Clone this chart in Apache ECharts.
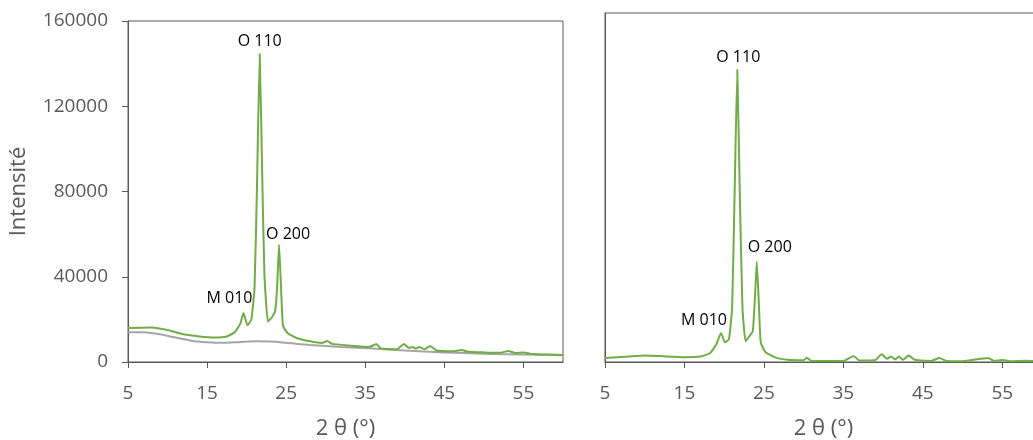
<!DOCTYPE html>
<html><head><meta charset="utf-8">
<script src="https://cdn.jsdelivr.net/npm/echarts@6/dist/echarts.min.js"></script>
<style>html,body{margin:0;padding:0;background:#fff}#c{width:1033px;height:440px}</style>
</head><body><div id="c"></div>
<script>
// ---- Data ----
const xTicks = [5, 15, 25, 35, 45, 55];
const yTicks = [0, 40000, 80000, 120000, 160000];

// left panel, green curve
const leftGreenX = [5, 8, 10, 12, 14, 16, 17.5, 18.5, 19.2, 19.6, 20.1, 20.6, 21.0, 21.3, 21.65, 21.95, 22.25, 22.7, 23.2, 23.6, 23.85, 24.1, 24.35, 24.6, 25.2, 26.5, 28, 29.5, 30.2, 30.8, 33, 35.5, 36.4, 37, 39, 39.9, 40.5, 41, 41.4, 41.8, 42.5, 43.2, 44, 46, 47.2, 48, 50, 52, 53.1, 54, 55, 56, 58, 60];
const leftGreenY = [16000, 16200, 15000, 13000, 12000, 11500, 12000, 14000, 18000, 23000, 17200, 20000, 35000, 81000, 144500, 91000, 41000, 19000, 21000, 23800, 35000, 55000, 35000, 17000, 13500, 11000, 9700, 8900, 9800, 8500, 7700, 7000, 8400, 6300, 6000, 8400, 6600, 7000, 6300, 7000, 6000, 7500, 5400, 5000, 5600, 4800, 4500, 4300, 5200, 4200, 4400, 3800, 3500, 3300];

// left panel, gray curve
const leftGrayX = [5, 7, 9, 11, 13, 15, 17, 19, 21, 23, 25, 28, 32, 36, 40, 45, 50, 55, 60];
const leftGrayY = [14000, 14000, 13000, 11500, 10000, 9300, 9000, 9300, 9700, 9600, 9000, 8000, 7000, 6300, 5400, 4500, 3900, 3500, 3200];

// right panel, green curve
const rightGreenX = [5, 8, 10, 12, 15, 17, 18.2, 19.0, 19.6, 20.1, 20.6, 21.0, 21.3, 21.65, 21.95, 22.3, 22.7, 23.2, 23.6, 23.85, 24.1, 24.35, 24.6, 25.2, 26.5, 28, 30, 30.4, 31, 35, 36.3, 37, 39, 39.8, 40.5, 41, 41.5, 42, 42.5, 43.2, 44, 46, 47.1, 48, 50, 53.2, 54, 55, 56, 58, 60];
const rightGreenY = [1800, 2500, 3000, 2700, 2200, 2500, 4000, 8000, 13300, 9000, 10500, 25000, 75000, 134000, 80000, 25000, 9500, 12000, 14200, 28000, 46000, 28000, 9000, 4500, 2000, 1000, 800, 2000, 500, 500, 2800, 700, 800, 3500, 1500, 2500, 1200, 2500, 1000, 3000, 1000, 500, 1800, 500, 400, 1800, 500, 900, 400, 600, 300];

// peak labels: [x, y, text]
const leftPeaks = [[21.65, 144500, 'O 110'], [24.1, 55000, 'O 200'], [19.6, 23000, 'M 010']];
const rightPeaks = [[21.65, 134000, 'O 110'], [24.1, 46000, 'O 200'], [19.6, 13300, 'M 010']];
const leftOffsets = [[0, -13], [9, -10], [-14, -15]];
const rightOffsets = [[1, -12], [13, -14], [-17, -13]];

// ---- Chart ----
const pair = (xs, ys) => xs.map((x, i) => [x, ys[i]]);
const FONT = '"Open Sans", "Liberation Sans", sans-serif';
const axisCol = '#595959';
const labelCol = '#595959';

function xAxis(gi) {
  return {
    type: 'value', gridIndex: gi, min: 5, max: 60, interval: 10,
    name: '2 θ (°)', nameLocation: 'middle', nameGap: 56,
    nameTextStyle: { fontFamily: FONT, fontSize: 22, color: labelCol },
    axisLine: { show: true, lineStyle: { color: axisCol, width: 1 } },
    axisTick: { show: true, inside: false, length: 6, lineStyle: { color: axisCol } },
    axisLabel: { fontFamily: FONT, fontSize: 19, color: labelCol, margin: 22, showMaxLabel: false },
    splitLine: { show: false }
  };
}
function peakMarks(peaks, offs) {
  return {
    symbol: 'circle', symbolSize: 0, silent: true,
    label: { show: true, position: 'inside', fontFamily: FONT, fontSize: 16, color: '#000' },
    data: peaks.map((p, i) => ({ coord: [p[0], p[1]], value: p[2], label: { offset: offs[i], formatter: p[2] } }))
  };
}

const chart = echarts.init(document.getElementById('c'), null, { renderer: 'canvas' });
chart.setOption({
  animation: false,
  backgroundColor: '#fff',
  grid: [
    { left: 128, top: 21, width: 435, height: 341, outerBoundsMode: 'none', containLabel: false, show: true, borderColor: axisCol, borderWidth: 1, backgroundColor: 'transparent' },
    { left: 605, top: 13, width: 437, height: 349, outerBoundsMode: 'none', containLabel: false, show: true, borderColor: axisCol, borderWidth: 1, backgroundColor: 'transparent' }
  ],
  xAxis: [xAxis(0), xAxis(1)],
  yAxis: [
    {
      type: 'value', gridIndex: 0, min: 0, max: 160000, interval: 40000,
      name: 'Intensité', nameLocation: 'middle', nameGap: 98, nameRotate: 90,
      nameTextStyle: { fontFamily: FONT, fontSize: 22, color: labelCol },
      axisLine: { show: true, lineStyle: { color: axisCol } },
      axisTick: { show: true, length: 6, lineStyle: { color: axisCol } },
      axisLabel: { fontFamily: FONT, fontSize: 19, color: labelCol, margin: 20, formatter: v => String(v) },
      splitLine: { show: false }
    },
    {
      type: 'value', gridIndex: 1, min: 0, max: 160000, interval: 40000,
      axisLine: { show: true, lineStyle: { color: axisCol } },
      axisTick: { show: false }, axisLabel: { show: false }, splitLine: { show: false }
    }
  ],
  series: [
    { type: 'line', xAxisIndex: 0, yAxisIndex: 0, data: pair(leftGrayX, leftGrayY), showSymbol: false, smooth: 0.3, lineStyle: { color: '#A5A5A5', width: 2 }, z: 2 },
    { type: 'line', xAxisIndex: 0, yAxisIndex: 0, data: pair(leftGreenX, leftGreenY), showSymbol: false, smooth: 0.15, lineStyle: { color: '#70AD47', width: 2, join: 'round' }, z: 3, markPoint: peakMarks(leftPeaks, leftOffsets) },
    { type: 'line', xAxisIndex: 1, yAxisIndex: 1, data: pair(rightGreenX, rightGreenY), showSymbol: false, smooth: 0.15, lineStyle: { color: '#70AD47', width: 2, join: 'round' }, z: 3, markPoint: peakMarks(rightPeaks, rightOffsets) }
  ]
});
</script></body></html>
